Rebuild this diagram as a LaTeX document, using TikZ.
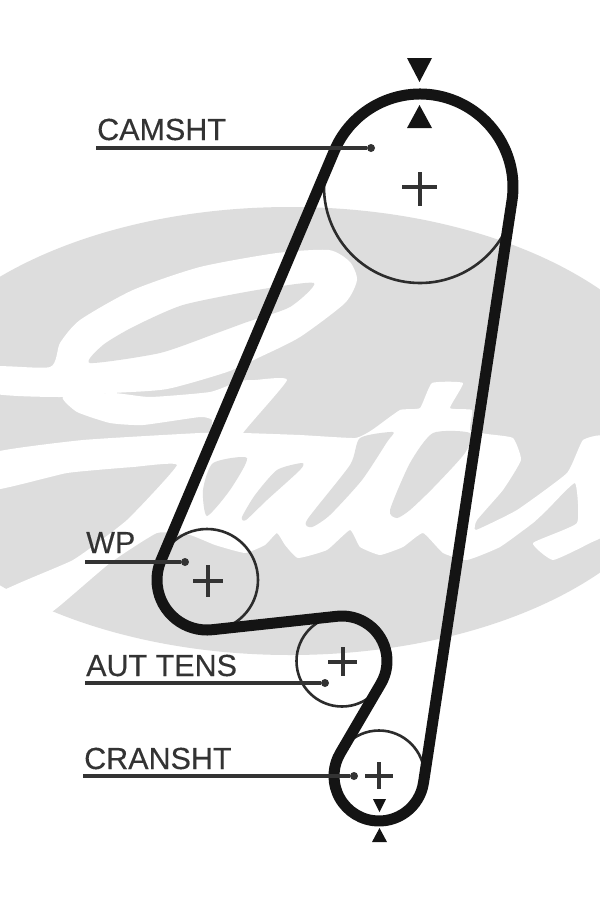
\documentclass[tikz,border=0pt]{standalone}
\usepackage{fontspec}
\setmainfont{Liberation Sans}[FakeBold=0.3]
\usetikzlibrary{calc}
\definecolor{logogrey}{HTML}{DDDDDD}
\definecolor{ink}{HTML}{141414}
\definecolor{leaderink}{HTML}{333333}
\tikzset{
  beltline/.style={draw=ink,line width=11pt,line join=round},
  pulley/.style={draw=ink!90,line width=2.6pt},
  crossmark/.style={draw=leaderink,line width=3.4pt},
  leader/.style={draw=leaderink,line width=3.3pt},
  leaderdot/.style={circle,fill=leaderink,inner sep=0pt,minimum size=8pt},
  marktip/.style={fill=ink},
  label/.style={anchor=base west,inner sep=0pt,font=\fontsize{30.5pt}{32pt}\selectfont,text=leaderink},
  logowhite/.style={fill=white,draw=none},
  logocounter/.style={fill=logogrey,draw=none}
}
\begin{document}
\begin{tikzpicture}[x=1pt,y=1pt,yscale=-1]
\useasboundingbox (0,0) rectangle (600,900);
\fill[white] (0,0) rectangle (600,900);
% logo
\fill[logogrey] (290,431) ellipse [x radius=400,y radius=224];
\fill[logowhite] plot[smooth cycle,tension=.4] coordinates {(-8,367)(50,367)(60,343)(80,320)(133,290)(200,267)(277,253)(329,250)(350,262)(357,280)(345,303)(300,337)(260,357)(227,372)(167,389)(113,393)(60,397)(-8,393)};
\fill[logowhite] plot[smooth cycle,tension=.3] coordinates {(63,397)(113,393)(150,397)(210,392)(240,381)(255,380)(287,380)(243,433)(225,470)(195,470)(210,432)(212,420)(200,417)(143,425)(110,423)(77,412)};
\fill[logowhite] plot[smooth cycle,tension=.25] coordinates {(-8,453)(83,440)(200,433)(243,433)(300,435)(355,438)(372,430)(400,410)(420,408)(432,383)(463,383)(450,408)(472,410)(470,430)(487,434)(513,438)(521,460)(503,490)(477,520)(476,530)(517,510)(567,473)(583,440)(608,438)(608,530)(590,543)(553,560)(533,543)(577,523)(575,483)(547,510)(533,523)(500,547)(467,560)(443,553)(423,533)(403,547)(380,555)(360,547)(350,530)(327,550)(298,558)(285,545)(277,533)(265,545)(245,553)(215,545)(190,535)(157,533)(110,563)(57,608)(-8,655)(-8,597)(73,560)(127,520)(177,465)(133,467)(67,473)(-8,490)};
\fill[logocounter] plot[smooth cycle,tension=.4] coordinates {(90,363)(103,345)(133,327)(183,305)(257,290)(314,283)(290,307)(247,322)(217,333)(160,353)};
\fill[logocounter] plot[smooth cycle,tension=.4] coordinates {(213,463)(247,458)(230,490)(207,516)(203,490)};
\fill[logocounter] plot[smooth cycle,tension=.4] coordinates {(302,463)(277,470)(255,495)(242,517)(246,520)(267,500)(300,470)};
\fill[logocounter] plot[smooth cycle,tension=.4] coordinates {(393,432)(360,438)(350,465)(307,520)(312,527)(330,515)(362,480)(387,442)};
\fill[logocounter] plot[smooth cycle,tension=.4] coordinates {(433,433)(470,433)(465,453)(433,488)(410,510)(397,518)(390,510)(410,463)};
% pulley centres
\coordinate (cam) at (420,187);
\coordinate (wp) at (207,580);
\coordinate (tens) at (342,661);
\coordinate (crank) at (379,776);
% thin pulley circles
\draw[pulley] (cam) circle[radius=96];
\draw[pulley] (wp) circle[radius=51];
\draw[pulley] (tens) circle[radius=45.5];
\draw[pulley] (crank) circle[radius=45.5];
% belt
\draw[beltline] ($(cam)+(-157.1:93)$) arc[start angle=-157.1,end angle=8.6,radius=93]
  -- ($(crank)+(8.6:45)$) arc[start angle=8.6,end angle=210.3,radius=45]
  -- ($(tens)+(30.3:45)$) arc[start angle=30.3,end angle=-96.2,radius=45]
  -- ($(wp)+(83.8:50)$) arc[start angle=83.8,end angle=202.9,radius=50]
  -- cycle;
% crosses
\draw[crossmark] (402,187) -- (437,187) (420,172) -- (420,206);
\draw[crossmark] (193,581) -- (223,581) (208,565) -- (208,597);
\draw[crossmark] (328,662) -- (357,662) (343,647) -- (343,676);
\draw[crossmark] (365,776) -- (393,776) (379,762) -- (379,789);
% timing marks
\fill[marktip] (407,58) -- (432,58) -- (419.5,82) -- cycle;
\fill[marktip] (407,128) -- (432,128) -- (419.5,105) -- cycle;
\fill[marktip] (373,799) -- (386,799) -- (379.5,812) -- cycle;
\fill[marktip] (372,842) -- (387,842) -- (379.5,828) -- cycle;
% labels
\node[label] (lcam) at (97,140) {CAMSHT};
\node[label] (lwp) at (86,553) {WP};
\node[label] (ltens) at (86,676) {AUT TENS};
\node[label] (lcrank) at (84,769) {CRANSHT};
% leaders
\node[leaderdot] (dcam) at (371,148) {};
\node[leaderdot] (dwp) at (185,562) {};
\node[leaderdot] (dtens) at (325,683) {};
\node[leaderdot] (dcrank) at (354,776) {};
\coordinate (scam) at (96,148);
\coordinate (swp) at (85,562);
\coordinate (stens) at (85,683);
\coordinate (scrank) at (83,776);
\draw[leader] (scam) -- (dcam);
\draw[leader] (swp) -- (dwp);
\draw[leader] (stens) -- (dtens);
\draw[leader] (scrank) -- (dcrank);
\end{tikzpicture}
\end{document}
